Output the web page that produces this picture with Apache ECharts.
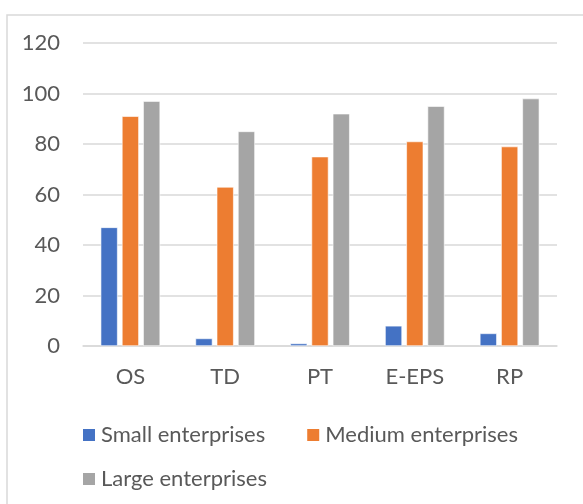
<!DOCTYPE html>
<html>
<head>
<meta charset="utf-8">
<script src="https://cdn.jsdelivr.net/npm/echarts@6/dist/echarts.min.js"></script>
<style>html,body{margin:0;padding:0;background:#fff;}#chart{width:583px;height:504px;}</style>
</head>
<body>
<div id="chart"></div>
<script>
const categories = ['OS', 'TD', 'PT', 'E-EPS', 'RP'];
const smallEnterprises = [47, 3, 1, 8, 5];
const mediumEnterprises = [91, 63, 75, 81, 79];
const largeEnterprises = [97, 85, 92, 95, 98];
const seriesNames = ['Small enterprises', 'Medium enterprises', 'Large enterprises'];
const yTicks = { min: 0, max: 120, interval: 20 };

const FONT = 'Lato';
const TEXT = '#595959';
const FS = 22;
const chart = echarts.init(document.getElementById('chart'), null, { renderer: 'canvas' });
const barStyle = (c) => ({ color: c, borderColor: '#ffffff', borderWidth: 0.6 });
chart.setOption({
  animation: false,
  backgroundColor: '#ffffff',
  textStyle: { fontFamily: FONT },
  graphic: [{
    type: 'rect', silent: true,
    shape: { x: 7, y: 15, width: 700, height: 600 },
    style: { fill: 'none', stroke: '#D9D9D9', lineWidth: 1.5 }
  }],
  grid: { left: 83, right: 26, top: 43, bottom: 158, containLabel: false },
  legend: [{
    data: [seriesNames[0], seriesNames[1]],
    left: 81, top: 424, padding: 0, itemWidth: 14, itemHeight: 14, itemGap: 40,
    icon: 'rect',
    textStyle: { color: TEXT, fontSize: FS, fontFamily: FONT }
  }, {
    data: [seriesNames[2]],
    left: 81, top: 468, padding: 0, itemWidth: 14, itemHeight: 14,
    icon: 'rect',
    textStyle: { color: TEXT, fontSize: FS, fontFamily: FONT }
  }],
  xAxis: {
    type: 'category', data: categories,
    axisLine: { show: true, lineStyle: { color: '#D9D9D9', width: 1.5 } },
    axisTick: { show: false },
    axisLabel: { color: TEXT, fontSize: FS, fontFamily: FONT, margin: 20 }
  },
  yAxis: {
    type: 'value', min: yTicks.min, max: yTicks.max, interval: yTicks.interval,
    axisLine: { show: false }, axisTick: { show: false },
    axisLabel: { color: TEXT, fontSize: FS, fontFamily: FONT, margin: 23 },
    splitLine: { lineStyle: { color: '#D9D9D9', width: 1.5 } }
  },
  series: [
    { name: seriesNames[0], type: 'bar', data: smallEnterprises, barWidth: 17, barGap: '25%', itemStyle: barStyle('#4472C4') },
    { name: seriesNames[1], type: 'bar', data: mediumEnterprises, barWidth: 17, barGap: '25%', itemStyle: barStyle('#ED7D31') },
    { name: seriesNames[2], type: 'bar', data: largeEnterprises, barWidth: 17, barGap: '25%', itemStyle: barStyle('#A5A5A5') }
  ]
});
</script>
</body>
</html>
